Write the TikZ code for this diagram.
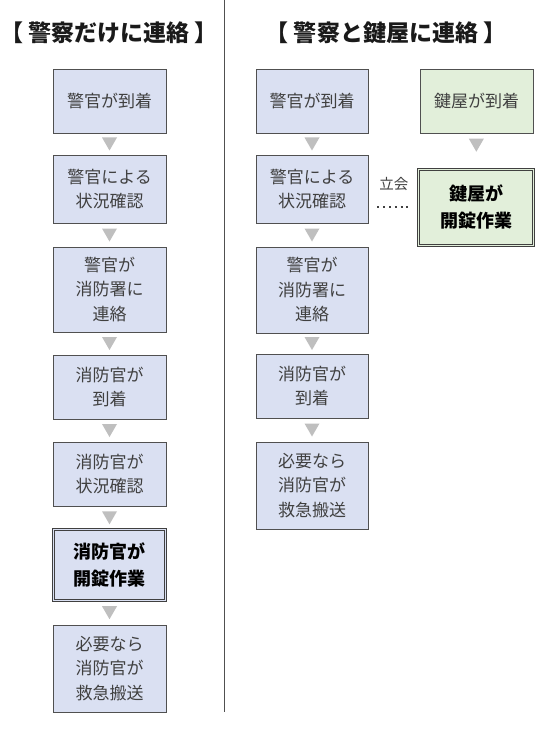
\documentclass[tikz,border=0pt]{standalone}
\usepackage{fontspec}
\newfontfamily\jp{Noto Sans CJK JP}
\definecolor{boxblue}{HTML}{DAE0F2}
\definecolor{boxgreen}{HTML}{E2EFDA}
\definecolor{edgegray}{HTML}{505050}
\definecolor{txtgray}{HTML}{404040}
\definecolor{arrowgray}{HTML}{BFBFBF}
\definecolor{titleblack}{HTML}{1A1A1A}
\tikzset{
  flowbox/.style={draw=edgegray, fill=boxblue, line width=0.8pt, inner sep=0pt,
    align=center, text=txtgray, font=\jp\fontsize{17}{24.5}\selectfont},
  keybox/.style={flowbox, fill=boxgreen},
  mainbox/.style={draw=edgegray!80!black, double=boxblue, double distance=1.6pt, line width=0.8pt,
    fill=boxblue, inner sep=0pt, align=center, text=black,
    font=\jp\bfseries\fontsize{18}{27}\selectfont},
  mainkeybox/.style={mainbox, double=boxgreen, fill=boxgreen},
  heading/.style={font=\jp\bfseries\fontsize{23}{27}\selectfont, text=titleblack, inner sep=0pt},
  dotline/.style={draw=txtgray, line width=2pt, dash pattern=on 2pt off 3.8pt},
  smalllabel/.style={font=\jp\fontsize{14.5}{18}\selectfont, text=txtgray, inner sep=0pt},
}
\newcommand\tridown[1]{\fill[arrowgray] ([shift={(-7.5,-6.5)}]#1) -- ([shift={(7.5,-6.5)}]#1) -- ([shift={(0,6.5)}]#1) -- cycle;}
\begin{document}
\begin{tikzpicture}[x=1pt,y=-1pt]
\useasboundingbox (0,0) rectangle (552,735);
\fill[white] (0,0) rectangle (552,735);

% headings
\node[heading] (t1) at (109,33) {【 警察だけに連絡 】};
\node[heading] (t2) at (386,33) {【 警察と鍵屋に連絡 】};

% divider
\coordinate (d1) at (224,0);
\coordinate (d2) at (224,712);
\draw[edgegray, line width=0.9pt] (d1) -- (d2);

% left column
\node[flowbox, minimum width=113, minimum height=64] (L1) at (109.5,101) {警官が到着};
\node[flowbox, minimum width=113, minimum height=68] (L2) at (109.5,189) {警官による\\状況確認};
\node[flowbox, minimum width=113, minimum height=85] (L3) at (109.5,289.5) {警官が\\消防署に\\連絡};
\node[flowbox, minimum width=113, minimum height=64] (L4) at (109.5,387) {消防官が\\到着};
\node[flowbox, minimum width=113, minimum height=64] (L5) at (109.5,474) {消防官が\\状況確認};
\node[mainbox, minimum width=111.8, minimum height=70.8] (L6) at (109.5,565) {消防官が\\開錠作業};
\node[flowbox, minimum width=113, minimum height=87] (L7) at (109.5,668.5) {必要なら\\消防官が\\救急搬送};

% right column (police)
\node[flowbox, minimum width=112, minimum height=64] (R1) at (312,101) {警官が到着};
\node[flowbox, minimum width=112, minimum height=68] (R2) at (312,189) {警官による\\状況確認};
\node[flowbox, minimum width=112, minimum height=86] (R3) at (312,290) {警官が\\消防署に\\連絡};
\node[flowbox, minimum width=112, minimum height=64] (R4) at (312,386) {消防官が\\到着};
\node[flowbox, minimum width=112, minimum height=87] (R5) at (312,485.5) {必要なら\\消防官が\\救急搬送};

% locksmith column
\node[keybox, minimum width=113, minimum height=64] (G1) at (476.5,101) {鍵屋が到着};
\node[mainkeybox, minimum width=114.8, minimum height=75.8] (G2) at (476,207.5) {鍵屋が\\開錠作業};

% arrows
\foreach \a/\b/\n in {L1/L2/la1, L2/L3/la2, L3/L4/la3, L4/L5/la4, L5/L6/la5, L6/L7/la6,
                      R1/R2/ra1, R2/R3/ra2, R3/R4/ra3, R4/R5/ra4}{
  \path (\a.south) -- coordinate[midway] (\n) (\b.north);
  \tridown{\n}
}
\path (G1.south) -- coordinate[pos=0.33] (ga1) (G2.north);
\tridown{ga1}

% witness link
\draw[dotline] ([xshift=9pt]R2.east |- G2.west) -- node[midway, yshift=23pt, smalllabel] (w) {立会} ([xshift=-8pt]G2.west);
\end{tikzpicture}
\end{document}
